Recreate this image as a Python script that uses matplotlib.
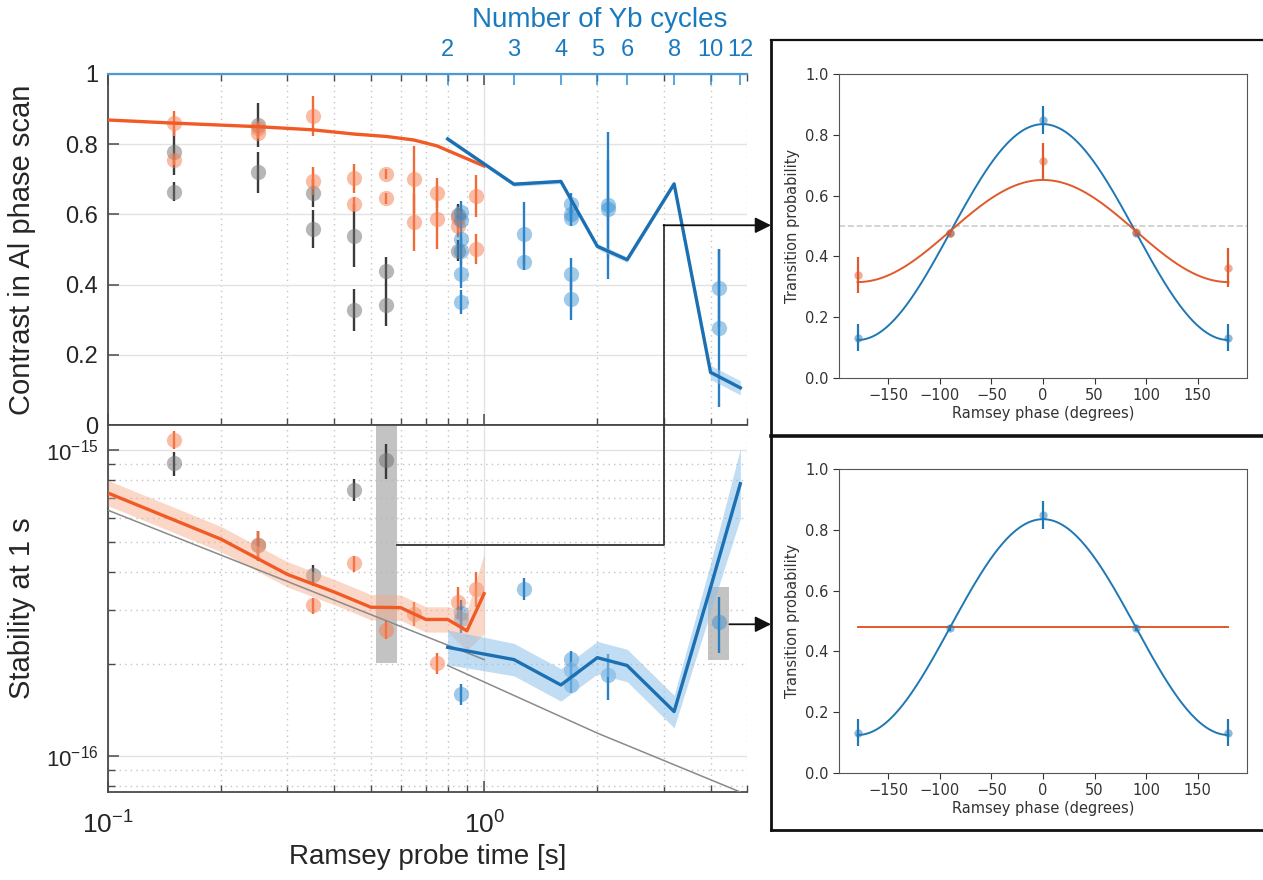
import numpy as np
import matplotlib

matplotlib.use('Agg')
import matplotlib.pyplot as plt
from matplotlib import font_manager
from matplotlib.lines import Line2D
from matplotlib.patches import FancyArrowPatch
from matplotlib.ticker import FixedLocator, NullFormatter, NullLocator, LogLocator

# ---------------- data ----------------
T_CYCLE = 0.4  # seconds per Yb cycle
cycle_ticks = [2, 3, 4, 5, 6, 8, 10, 12]
stab_major = [1e-16, 1e-15]

# top-left: contrast in Al phase scan
orange_top_t = [0.15, 0.15, 0.25, 0.25, 0.35, 0.35, 0.45, 0.45, 0.55, 0.55,
                0.65, 0.65, 0.75, 0.75, 0.85, 0.85, 0.95, 0.95]
orange_top_v = [0.860, 0.755, 0.846, 0.831, 0.879, 0.696, 0.703, 0.629, 0.715, 0.646,
                0.700, 0.577, 0.661, 0.587, 0.590, 0.566, 0.653, 0.502]
orange_top_e = [0.036, 0.015, 0.015, 0.015, 0.057, 0.040, 0.042, 0.020, 0.015, 0.015,
                0.095, 0.080, 0.043, 0.085, 0.030, 0.030, 0.060, 0.043]

gray_top_t = [0.15, 0.15, 0.25, 0.25, 0.35, 0.35, 0.45, 0.45, 0.55, 0.55, 0.85, 0.85]
gray_top_v = [0.777, 0.665, 0.855, 0.720, 0.661, 0.558, 0.539, 0.327, 0.438, 0.343, 0.599, 0.497]
gray_top_e = [0.064, 0.028, 0.062, 0.058, 0.040, 0.055, 0.090, 0.060, 0.040, 0.060, 0.030, 0.030]

blue_top_t = [0.866, 0.866, 0.866, 0.866, 0.866, 0.866, 1.28, 1.28,
              1.70, 1.70, 1.70, 1.70, 1.70, 2.13, 2.13, 4.2, 4.2]
blue_top_v = [0.608, 0.585, 0.531, 0.497, 0.431, 0.351, 0.545, 0.463,
              0.630, 0.602, 0.591, 0.431, 0.360, 0.626, 0.616, 0.390, 0.277]
blue_top_e = [0.030, 0.030, 0.030, 0.040, 0.040, 0.035, 0.090, 0.020,
              0.030, 0.025, 0.025, 0.045, 0.060, 0.210, 0.140, 0.110, 0.225]

orange_model_t = [0.1, 0.15, 0.25, 0.35, 0.45, 0.55, 0.65, 0.75, 0.85, 0.95, 1.0]
orange_model_v = [0.869, 0.860, 0.850, 0.841, 0.829, 0.822, 0.812, 0.795, 0.770, 0.748, 0.738]

blue_model_n = [2, 3, 4, 5, 6, 8, 10, 12]
blue_model_v = [0.815, 0.686, 0.694, 0.509, 0.471, 0.687, 0.150, 0.106]
blue_model_band = [0.006, 0.006, 0.006, 0.008, 0.008, 0.006, 0.020, 0.020]

# bottom-left: stability at 1 s
orange_bot_t = [0.15, 0.25, 0.35, 0.45, 0.55, 0.65, 0.75, 0.85, 0.95]
orange_bot_v = [1.083e-15, 4.92e-16, 3.11e-16, 4.27e-16, 2.59e-16, 2.92e-16, 2.02e-16, 3.19e-16, 3.53e-16]
orange_bot_rel = [0.07, 0.11, 0.06, 0.06, 0.07, 0.09, 0.08, 0.12, 0.13]

gray_bot_t = [0.15, 0.25, 0.35, 0.45, 0.55]
gray_bot_v = [9.09e-16, 4.90e-16, 3.91e-16, 7.44e-16, 9.28e-16]
gray_bot_rel = [0.09, 0.11, 0.08, 0.08, 0.13]

blue_bot_t = [0.866, 0.866, 0.866, 1.28, 1.70, 1.70, 1.70, 2.13, 4.2]
blue_bot_v = [2.95e-16, 2.80e-16, 1.60e-16, 3.53e-16, 2.08e-16, 1.91e-16, 1.71e-16, 1.84e-16, 2.75e-16]
blue_bot_rel = [0.10, 0.10, 0.08, 0.08, 0.06, 0.06, 0.06, 0.17, 0.21]

orange_stab_t = [0.1, 0.2, 0.3, 0.4, 0.5, 0.6, 0.7, 0.8, 0.9, 1.0]
orange_stab_v = [7.25e-16, 5.12e-16, 3.93e-16, 3.44e-16, 3.07e-16, 3.06e-16, 2.80e-16, 2.80e-16, 2.57e-16, 3.40e-16]
orange_stab_band = [0.10, 0.10, 0.10, 0.10, 0.10, 0.10, 0.10, 0.10, 0.16, 0.35]

blue_stab_n = [2, 3, 4, 5, 6, 8, 10, 12]
blue_stab_v = [2.27e-16, 2.07e-16, 1.71e-16, 2.10e-16, 1.98e-16, 1.40e-16, 3.56e-16, 7.78e-16]
blue_stab_band = [0.14, 0.13, 0.13, 0.13, 0.13, 0.13, 0.20, 0.30]

limit_al_t = [0.1, 1.0]
limit_al_v = [6.37e-16, 2.07e-16]
limit_yb_t = [0.8, 2.0, 4.8]
limit_yb_v = [1.98e-16, 1.19e-16, 7.64e-17]

highlight_t = [(0.516, 0.587), (3.94, 4.49)]
highlight_v = [(2.01e-16, 1.21e-15), (2.06e-16, 3.57e-16)]

# right panels: Ramsey phase scans
phase = [-180, -90, 0, 90, 180]
scan_blue_p = [0.133, 0.476, 0.849, 0.478, 0.133]
scan_blue_e = [0.045, 0.010, 0.047, 0.010, 0.045]
scan_orange_p = [0.339, 0.478, 0.714, 0.480, 0.363]
scan_orange_e = [0.060, 0.010, 0.059, 0.010, 0.063]
fit_blue = (0.480, 0.355)      # offset, amplitude
fit_orange = (0.4835, 0.168)
flat_orange = 0.480

# ---------------- style ----------------
W, H = 1263, 880


def pick_font(names):
    for n in names:
        try:
            font_manager.findfont(font_manager.FontProperties(family=n), fallback_to_default=False)
            return n
        except ValueError:
            pass
    return 'DejaVu Sans'


SANS = pick_font(['Liberation Sans Narrow', 'Liberation Sans'])
plt.rcParams['mathtext.fontset'] = 'custom'
plt.rcParams['mathtext.rm'] = SANS
plt.rcParams['mathtext.it'] = SANS

OR_LINE = '#f15a24'
OR_PT = '#f57c4f'
OR_ERR = '#f26b35'
GR_PT = '#707070'
GR_ERR = '#3a3a3a'
BL_LINE = '#1b6fb3'
BL_PT = '#2f8bd0'
BL_ERR = '#2a7fc4'
TXT = '#262626'
GRID_MAJ = '#e3e3e3'
GRID_MIN = '#c4c4c4'
PY_BLUE = '#1f77b4'
PY_ORANGE = '#e0592a'


def px_box(x0, y0, x1, y1):
    return [x0 / W, 1 - y1 / H, (x1 - x0) / W, (y1 - y0) / H]


fig = plt.figure(figsize=(W / 100, H / 100), dpi=100)
ax_c = fig.add_axes(px_box(108, 74, 747, 425))
ax_s = fig.add_axes(px_box(108, 425, 747, 792))
ax_p1 = fig.add_axes(px_box(839, 74, 1247, 378))
ax_p2 = fig.add_axes(px_box(839, 469, 1247, 773))


def style_left(ax):
    ax.set_xscale('log')
    ax.set_xlim(0.1, 5.0)
    ax.xaxis.set_major_locator(FixedLocator([0.1, 1.0]))
    ax.spines['right'].set_visible(False)
    for s in ('left', 'bottom', 'top'):
        ax.spines[s].set_color('#4a4a4a')
        ax.spines[s].set_linewidth(1.3)
    ax.grid(True, which='major', color=GRID_MAJ, lw=1.0, ls='-')
    ax.grid(True, which='minor', axis='x', color=GRID_MIN, lw=1.0, ls=(0, (1, 3)))
    ax.set_axisbelow(True)
    ax.tick_params(which='both', direction='in', colors='#4a4a4a', labelcolor=TXT)
    ax.tick_params(which='major', length=8, width=1.1)
    ax.tick_params(which='minor', length=5, width=1.0)
    ax.xaxis.set_minor_formatter(NullFormatter())


def points(ax, t, v, e, pcolor, ecolor, alpha):
    ax.errorbar(t, v, yerr=e, fmt='none', ecolor=ecolor, elinewidth=1.7, zorder=3)
    ax.plot(t, v, 'o', ms=11, color=pcolor, mec='none', alpha=alpha, zorder=4)


# ---------------- top-left panel ----------------
style_left(ax_c)
ax_c.set_ylim(0, 1)
ax_c.set_yticks([0, 0.2, 0.4, 0.6, 0.8, 1.0])
ax_c.set_yticklabels(['0', '0.2', '0.4', '0.6', '0.8', '1'], family=SANS, fontsize=17)
ax_c.tick_params(axis='x', which='both', labelbottom=False)
ax_c.tick_params(axis='y', pad=7)

points(ax_c, gray_top_t, gray_top_v, gray_top_e, GR_PT, GR_ERR, 0.5)
points(ax_c, orange_top_t, orange_top_v, orange_top_e, OR_PT, OR_ERR, 0.5)
points(ax_c, blue_top_t, blue_top_v, blue_top_e, BL_PT, BL_ERR, 0.45)

blue_model_t = np.array(blue_model_n) * T_CYCLE
bm = np.array(blue_model_v)
bb = np.array(blue_model_band)
ax_c.fill_between(blue_model_t, bm - bb, bm + bb, color='#8ec1ea', alpha=0.55, lw=0, zorder=5)
ax_c.plot(orange_model_t, orange_model_v, color=OR_LINE, lw=2.4, zorder=6)
ax_c.plot(blue_model_t, bm, color=BL_LINE, lw=2.4, zorder=6)
ax_c.set_ylabel('Contrast in Al phase scan', family=SANS, fontsize=21, color=TXT)
ax_c.yaxis.set_label_coords(-0.112, 0.5)

# top axis: number of Yb cycles
ax_n = ax_c.twiny()
ax_n.set_xscale('log')
ax_n.set_xlim(0.1 / T_CYCLE, 5.0 / T_CYCLE)
ax_n.xaxis.set_major_locator(FixedLocator(cycle_ticks))
ax_n.xaxis.set_minor_locator(NullLocator())
ax_n.set_xticklabels([str(n) for n in cycle_ticks], family=SANS, fontsize=17)
ax_n.tick_params(axis='x', direction='in', colors=BL_PT, labelcolor='#1a7ac0', length=8, width=1.1, pad=9)
for s in ('left', 'right', 'bottom'):
    ax_n.spines[s].set_visible(False)
ax_n.spines['top'].set_color('#4a9ad8')
ax_n.spines['top'].set_linewidth(1.6)
ax_n.set_xlabel('Number of Yb cycles', family=SANS, fontsize=20, color='#1a7ac0')
ax_n.xaxis.set_label_coords(0.77, 1.135)
ax_c.spines['top'].set_visible(False)
ax_c.tick_params(axis='x', which='both', top=True)

# ---------------- bottom-left panel ----------------
style_left(ax_s)
ax_s.set_yscale('log')
ax_s.set_ylim(7.64e-17, 1.21e-15)
ax_s.yaxis.set_major_locator(FixedLocator(stab_major))
ax_s.yaxis.set_minor_locator(LogLocator(base=10, subs=np.arange(2, 10)))
ax_s.yaxis.set_minor_formatter(NullFormatter())
ax_s.grid(True, which='minor', axis='y', color=GRID_MIN, lw=1.0, ls=(0, (1, 3)))
ax_s.tick_params(axis='y', labelsize=16, pad=7)
ax_s.tick_params(axis='x', labelsize=19, pad=14)
for lab in ax_s.get_xticklabels() + ax_s.get_yticklabels():
    lab.set_family(SANS)

for (x0, x1), (y0, y1) in zip(highlight_t, highlight_v):
    ax_s.fill_between([x0, x1], y0, y1, color='#b4b4b4', alpha=0.8, lw=0, zorder=2)

points(ax_s, gray_bot_t, gray_bot_v, np.array(gray_bot_v) * np.array(gray_bot_rel), GR_PT, GR_ERR, 0.5)
points(ax_s, orange_bot_t, orange_bot_v, np.array(orange_bot_v) * np.array(orange_bot_rel), OR_PT, OR_ERR, 0.5)
points(ax_s, blue_bot_t, blue_bot_v, np.array(blue_bot_v) * np.array(blue_bot_rel), BL_PT, BL_ERR, 0.45)

ov = np.array(orange_stab_v)
ob = np.array(orange_stab_band)
ax_s.fill_between(orange_stab_t, ov / (1 + ob), ov * (1 + ob), color='#f7a886', alpha=0.45, lw=0, zorder=5)
blue_stab_t = np.array(blue_stab_n) * T_CYCLE
bv = np.array(blue_stab_v)
bsb = np.array(blue_stab_band)
ax_s.fill_between(blue_stab_t, bv / (1 + bsb), bv * (1 + bsb), color='#8ec1ea', alpha=0.55, lw=0, zorder=5)
ax_s.plot(limit_al_t, limit_al_v, color='#8a8a8a', lw=1.1, zorder=5)
ax_s.plot(limit_yb_t, limit_yb_v, color='#8a8a8a', lw=1.1, zorder=5)
ax_s.plot(orange_stab_t, ov, color=OR_LINE, lw=2.4, zorder=6)
ax_s.plot(blue_stab_t, bv, color=BL_LINE, lw=2.4, zorder=6)

ax_s.set_ylabel('Stability at 1 s', family=SANS, fontsize=21, color=TXT)
ax_s.yaxis.set_label_coords(-0.112, 0.5)
ax_s.set_xlabel('Ramsey probe time [s]', family=SANS, fontsize=20, color=TXT, labelpad=4)

# ---------------- right panels ----------------
phi = np.linspace(-180, 180, 361)
for ax in (ax_p1, ax_p2):
    ax.set_xlim(-198, 198)
    ax.set_ylim(0, 1)
    ax.set_xticks([-150, -100, -50, 0, 50, 100, 150])
    ax.set_yticks([0, 0.2, 0.4, 0.6, 0.8, 1.0])
    ax.tick_params(labelsize=10.5, colors='#333333', length=4)
    for s in ax.spines.values():
        s.set_color('#555555')
    ax.set_xlabel('Ramsey phase (degrees)', fontsize=10.5, color='#333333', labelpad=2)
    ax.set_ylabel('Transition probability', fontsize=10.5, color='#333333', labelpad=4)
    ax.plot(phi, fit_blue[0] + fit_blue[1] * np.cos(np.radians(phi)), color=PY_BLUE, lw=1.4, zorder=3)
    ax.errorbar(phase, scan_blue_p, yerr=scan_blue_e, fmt='none', ecolor=PY_BLUE, elinewidth=1.6, zorder=4)
    ax.plot(phase, scan_blue_p, 'o', ms=6, color=PY_BLUE, alpha=0.5, mec='none', zorder=4)

ax_p1.axhline(0.5, color='#cccccc', ls='--', lw=1.2, zorder=1)
ax_p1.plot(phi, fit_orange[0] + fit_orange[1] * np.cos(np.radians(phi)), color=PY_ORANGE, lw=1.4, zorder=3)
ax_p1.errorbar(phase, scan_orange_p, yerr=scan_orange_e, fmt='none', ecolor=PY_ORANGE, elinewidth=1.6, zorder=4)
ax_p1.plot(phase, scan_orange_p, 'o', ms=6, color=PY_ORANGE, alpha=0.5, mec='none', zorder=4)
ax_p2.plot([phase[0], phase[-1]], [flat_orange, flat_orange], color=PY_ORANGE, lw=1.4, zorder=3)

# ---------------- frames and connectors ----------------
to_fig = fig.transFigure.inverted()


def fig_xy(x_px, y_px):
    return x_px / W, 1 - y_px / H


def data_fig(ax, x, y):
    return to_fig.transform(ax.transData.transform((x, y)))


FRAME_X, FRAME_TOP, FRAME_MID, FRAME_BOT = 771, 40, 436, 830
frame_segments = [
    ([FRAME_X, W], [FRAME_TOP, FRAME_TOP], 1.6),
    ([FRAME_X, FRAME_X], [FRAME_TOP, FRAME_BOT], 2.0),
    ([FRAME_X, W], [FRAME_MID, FRAME_MID], 2.6),
    ([FRAME_X, W], [FRAME_BOT, FRAME_BOT], 2.0),
]
for xs, ys, lw in frame_segments:
    p0 = fig_xy(xs[0], ys[0])
    p1 = fig_xy(xs[1], ys[1])
    fig.add_artist(Line2D([p0[0], p1[0]], [p0[1], p1[1]], transform=fig.transFigure, color='#111111', lw=lw))

conn_y1 = 4.9e-16
conn_turn_t = 3.0
conn_top_v = 0.569
conn_y2 = 2.70e-16

a = data_fig(ax_s, highlight_t[0][1], conn_y1)
b = data_fig(ax_s, conn_turn_t, conn_y1)
c = data_fig(ax_c, conn_turn_t, conn_top_v)
fig.add_artist(Line2D([a[0], b[0], c[0]], [a[1], b[1], c[1]], transform=fig.transFigure, color='#333333', lw=1.3, zorder=10))
tip = (FRAME_X / W, c[1])
fig.add_artist(FancyArrowPatch(tuple(c), tip, transform=fig.transFigure, arrowstyle='-|>',
                               mutation_scale=24, color='#111111', lw=1.3, shrinkA=0, shrinkB=0, zorder=10))
d = data_fig(ax_s, highlight_t[1][1], conn_y2)
fig.add_artist(FancyArrowPatch(tuple(d), (FRAME_X / W, d[1]), transform=fig.transFigure, arrowstyle='-|>',
                               mutation_scale=24, color='#111111', lw=1.3, shrinkA=0, shrinkB=0, zorder=10))

fig.savefig('out.png', dpi=100)
